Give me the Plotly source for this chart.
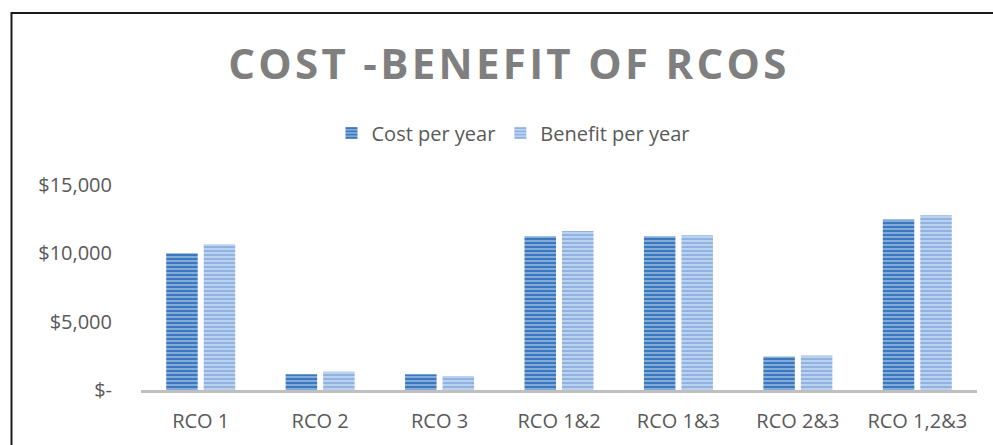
import plotly.graph_objects as go

categories = ["RCO 1", "RCO 2", "RCO 3", "RCO 1&2", "RCO 1&3", "RCO 2&3", "RCO 1,2&3"]
cost_per_year = [10000, 1150, 1150, 11250, 11250, 2460, 12480]
benefit_per_year = [10660, 1340, 1020, 11640, 11320, 2530, 12790]
tick_values = [0, 5000, 10000, 15000]
tick_labels = ["$-", "$5,000", "$10,000", "$15,000"]

W, H = 993, 445
L, R, T, B = 141, 16, 185, 55
pw = W - L - R
ph = H - T - B

FONT = "Open Sans"
TXT = "#595959"

fig = go.Figure()
fig.add_trace(go.Bar(
    name="Cost per year", x=categories, y=cost_per_year,
    marker=dict(color="#3f7bc0",
                pattern=dict(shape="-", fgcolor="#3c78bd", bgcolor="#b2cdec",
                             size=4, solidity=0.7, fgopacity=1),
                line=dict(width=0)),
))
fig.add_trace(go.Bar(
    name="Benefit per year", x=categories, y=benefit_per_year,
    marker=dict(color="#93b5e3",
                pattern=dict(shape="-", fgcolor="#90b3e2", bgcolor="#d8e5f6",
                             size=4, solidity=0.7, fgopacity=1),
                line=dict(width=0)),
))

def px_to_paper_x(px):
    return (px - L) / pw

def px_to_paper_y(py):
    return (H - B - py) / ph

fig.update_layout(
    width=W, height=H,
    margin=dict(l=L, r=R, t=T, b=B, autoexpand=False),
    paper_bgcolor="white", plot_bgcolor="white",
    barmode="group", bargap=0.372, bargroupgap=0.16,
    font=dict(family=FONT, size=20, color=TXT),
    title=dict(text="<b>COST -BENEFIT OF RCOS</b>",
               font=dict(family=FONT, size=42, color="#7f7f7f"),
               x=509 / W, xanchor="center", xref="container",
               y=1 - 64 / H, yanchor="middle", yref="container"),
    legend=dict(orientation="h", xref="container", yref="container",
                x=513 / W, xanchor="center", y=1 - 133 / H, yanchor="middle",
                font=dict(family=FONT, size=20, color=TXT),
                itemclick=False, bgcolor="rgba(0,0,0,0)"),
    xaxis=dict(showline=True, linecolor="#bfbfbf", linewidth=3,
               showgrid=False, ticks="", ticklabelstandoff=11,
               tickfont=dict(family=FONT, size=20, color=TXT)),
    yaxis=dict(range=[0, 15000], tickvals=tick_values, ticktext=tick_labels,
               showgrid=False, zeroline=False, showline=False, ticks="",
               ticklabelstandoff=28,
               tickfont=dict(family=FONT, size=20, color=TXT)),
    shapes=[dict(type="rect", xref="paper", yref="paper",
                 x0=px_to_paper_x(11.5), x1=px_to_paper_x(1100),
                 y0=px_to_paper_y(600), y1=px_to_paper_y(13),
                 line=dict(color="#1a1a1a", width=2), fillcolor="rgba(0,0,0,0)",
                 layer="above")],
)

post = """
document.body.style.margin = '0';
document.body.style.padding = '0';
function spaceTitle() {
  document.querySelectorAll('.gtitle').forEach(function (e) {
    e.style.letterSpacing = '3.3px';
  });
}
spaceTitle();
setTimeout(spaceTitle, 0);
var gd = document.getElementById('{plot_id}');
if (gd && gd.on) { gd.on('plotly_afterplot', spaceTitle); }
"""

fig.write_html("out.html", post_script=post,
               config={"displayModeBar": False, "staticPlot": True})
